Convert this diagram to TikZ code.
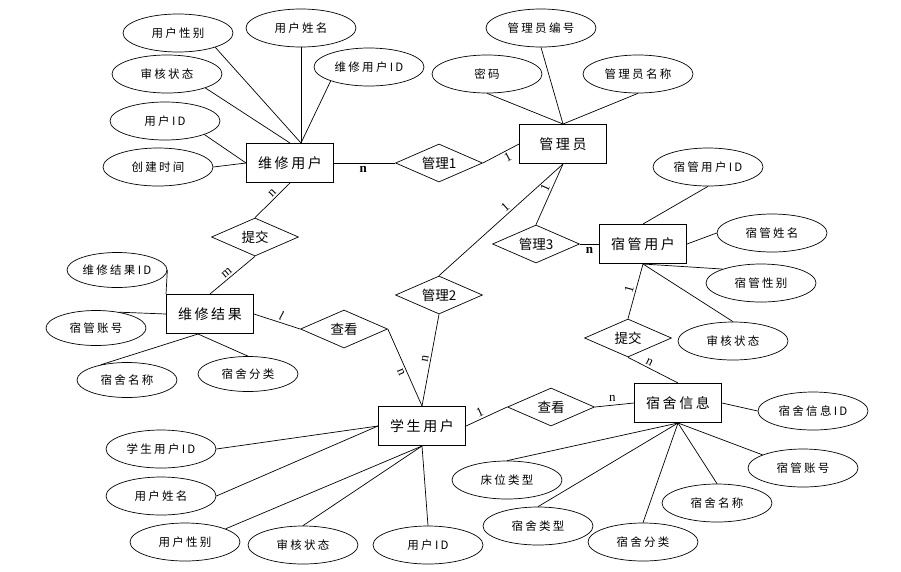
\documentclass[tikz,border=0pt]{standalone}
\usepackage{fontspec}
\setmainfont{Noto Sans CJK SC}
\newfontfamily\labfont{Liberation Serif}
\usetikzlibrary{shapes.geometric}
\begin{document}
\begin{tikzpicture}[x=1pt,y=-1pt,
  every node/.style={inner sep=0pt},
  conn/.style={line width=0.7pt},
  attr/.style={draw, line width=0.7pt, ellipse, minimum width=110pt, minimum height=38pt,
    font=\fontsize{11.5}{13}\selectfont\addfontfeatures{LetterSpace=20}},
  sattr/.style={attr, minimum width=100pt, minimum height=35pt},
  ent/.style={draw, line width=1pt, rectangle, minimum width=87pt, minimum height=39pt,
    font=\fontsize{14}{16}\selectfont\addfontfeatures{LetterSpace=18}},
  rel/.style={draw, line width=0.7pt, diamond, aspect=2.3, minimum width=87pt, minimum height=38pt,
    font=\fontsize{13.5}{15}\selectfont},
  card/.style={font=\labfont\fontsize{13}{14}\selectfont, inner sep=2pt},
  bcard/.style={font=\labfont\bfseries\fontsize{13}{14}\selectfont, inner sep=2pt}]
\useasboundingbox (0,0) rectangle (901,571);
% entities
\node[ent] (wxyh) at (290,163) {维修用户};
\node[ent] (gly) at (563,144) {管理员};
\node[ent] (sgyh) at (643,244) {宿管用户};
\node[ent] (wxjg) at (210,314) {维修结果};
\node[ent] (xsyh) at (422,426) {学生用户};
\node[ent] (ssxx) at (678,403) {宿舍信息};
% relationships
\node[rel] (gl1) at (439,163) {管理1};
\node[rel] (gl2) at (439,295) {管理2};
\node[rel] (gl3) at (536,244) {管理3};
\node[rel] (tj1) at (255,237) {提交};
\node[rel] (tj2) at (628,338) {提交};
\node[rel] (ck1) at (344,329) {查看};
\node[rel] (ck2) at (551,407) {查看};
% attributes
\node[attr] (a1) at (178,33) {用户性别};
\node[attr] (a2) at (301,28) {用户姓名};
\node[attr] (a3) at (167,74) {审核状态};
\node[attr] (a4) at (369,67) {维修用户ID};
\node[attr] (a5) at (165,121) {用户ID};
\node[attr] (a6) at (158,167) {创建时间};
\node[attr] (b1) at (541,28) {管理员编号};
\node[attr] (b2) at (487,74) {密码};
\node[attr] (b3) at (638,74) {管理员名称};
\node[attr] (c1) at (708,167) {宿管用户ID};
\node[attr] (c2) at (772,233) {宿管姓名};
\node[attr] (c3) at (761,283) {宿管性别};
\node[attr] (c4) at (733,341) {审核状态};
\node[sattr] (d1) at (117,270) {维修结果ID};
\node[sattr] (d2) at (96,328) {宿管账号};
\node[sattr] (d3) at (127,380) {宿舍名称};
\node[sattr] (d4) at (248,374) {宿舍分类};
\node[attr] (e1) at (161,449) {学生用户ID};
\node[attr] (e2) at (161,496) {用户姓名};
\node[attr] (e3) at (185,542) {用户性别};
\node[attr] (e4) at (303,545) {审核状态};
\node[attr] (e5) at (428,545) {用户ID};
\node[attr] (f1) at (813,411) {宿舍信息ID};
\node[attr] (f2) at (507,480) {床位类型};
\node[attr] (f3) at (538,526) {宿舍类型};
\node[attr] (f4) at (643,542) {宿舍分类};
\node[attr] (f5) at (717,503) {宿舍名称};
\node[attr] (f6) at (803,468) {宿管账号};
% attribute connectors
\draw[conn] (a1.-21) -- ([xshift=11pt]wxyh.north);
\draw[conn] (a2.south) -- ([xshift=11pt]wxyh.north);
\draw[conn] (a3.-20) -- (wxyh.north);
\draw[conn] (a4.200) -- ([xshift=11pt]wxyh.north);
\draw[conn] (a5.-19) -- (wxyh.west);
\draw[conn] (a6.east) -- (wxyh.west);
\draw[conn] (b1.south) -- (gly.north);
\draw[conn] (b2.south) -- (gly.north);
\draw[conn] (b3.south) -- (gly.north);
\draw[conn] (c1.south) -- (sgyh.north);
\draw[conn] (c2.west) -- (sgyh.east);
\draw[conn] (c3.160) -- (sgyh.south);
\draw[conn] (c4.north) -- (sgyh.south);
\draw[conn] (d1.east) -- (wxjg.north west);
\draw[conn] (d2.34) -- (wxjg.west);
\draw[conn] (d3.150) -- ([xshift=-12pt]wxjg.south);
\draw[conn] (d4.north) -- ([xshift=-12pt]wxjg.south);
\draw[conn] (e1.east) -- (xsyh.west);
\draw[conn] (e2.east) -- (xsyh.west);
\draw[conn] (e3.18) -- (xsyh.south);
\draw[conn] (e4.north) -- (xsyh.south);
\draw[conn] (e5.north) -- (xsyh.south);
\draw[conn] (ssxx.east) -- (f1.west);
\draw[conn] (f2.north) -- (ssxx.south);
\draw[conn] (f3.north) -- (ssxx.south);
\draw[conn] (f4.north) -- (ssxx.south);
\draw[conn] (f5.north) -- (ssxx.south);
\draw[conn] (f6.162) -- (ssxx.south);
% relationship connectors
\draw[conn] (wxyh.east) -- node[pos=0.48, below=1pt, bcard] {n} (gl1.west);
\draw[conn] (gl1.east) -- node[pos=0.6, sloped, below, card] {1} (gly.west);
\draw[conn] (gl3.north) -- node[pos=0.56, sloped, above, card] {1} (gly.south);
\draw[conn] (gl2.north) -- node[pos=0.57, sloped, above, card] {1} (gly.south);
\draw[conn] (gl3.east) -- node[pos=0.5, below=1pt, bcard] {n} (sgyh.west);
\draw[conn] (tj2.north) -- node[pos=0.5, sloped, above, card] {1} (sgyh.south);
\draw[conn] (tj2.south) -- node[pos=0.38, sloped, above, card] {n} (ssxx.north);
\draw[conn] (tj1.north) -- node[pos=0.6, sloped, above, card] {n} (wxyh.south);
\draw[conn] (wxjg.north) -- node[pos=0.45, sloped, above, card] {m} (tj1.south);
\draw[conn] (wxjg.east) -- node[pos=0.55, sloped, above, card] {\itshape l} (ck1.west);
\draw[conn] (ck1.east) -- node[pos=0.53, sloped, below, card] {n} (xsyh.north);
\draw[conn] (xsyh.north) -- node[pos=0.5, sloped, above, card] {n} (gl2.south);
\draw[conn] (xsyh.east) -- node[pos=0.4, sloped, above, card] {1} (ck2.west);
\draw[conn] (ck2.east) -- node[pos=0.45, above=1pt, card] {n} (ssxx.west);
\end{tikzpicture}
\end{document}
